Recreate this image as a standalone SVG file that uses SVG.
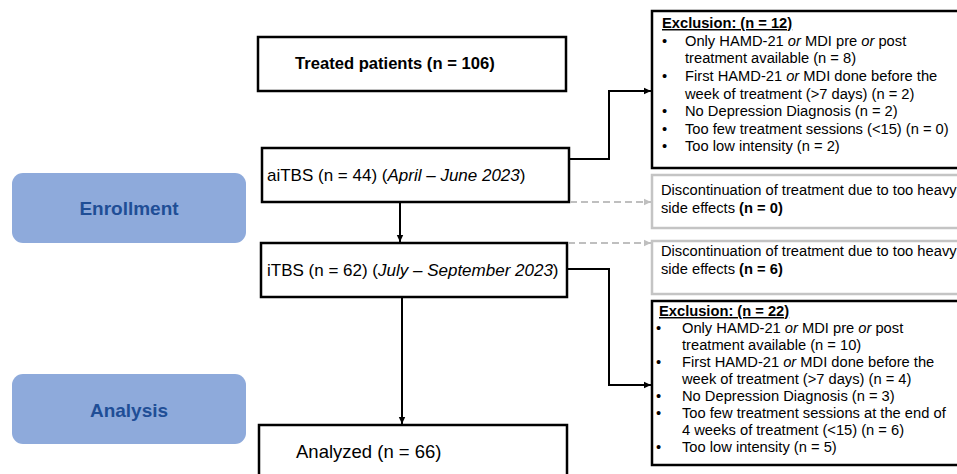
<svg xmlns="http://www.w3.org/2000/svg" width="957" height="474" viewBox="0 0 957 474">
<defs>
<marker id="ab" markerWidth="8" markerHeight="8" refX="7" refY="4" orient="auto" markerUnits="userSpaceOnUse"><path d="M0,0.8 L7,4 L0,7.2 Z" fill="#000"/></marker>
<marker id="ag" markerWidth="8" markerHeight="8" refX="7" refY="4" orient="auto" markerUnits="userSpaceOnUse"><path d="M0,0.8 L7,4 L0,7.2 Z" fill="#bfbfbf"/></marker>
<style>
text{font-family:"Liberation Sans",Arial,sans-serif;fill:#000}
.box{fill:#fff;stroke:#000;stroke-width:2.5}
.gbox{fill:#fff;stroke:#c4c4c4;stroke-width:2.5}
.stage{fill:#8eaadb}
.stxt{font-size:19px;font-weight:bold;fill:#1f4e96;text-anchor:middle}
.main{font-size:17px}
.sm{font-size:14.7px}
.hd{font-weight:bold;text-decoration:underline}
.con{fill:none;stroke:#000;stroke-width:2;marker-end:url(#ab)}
.dash{fill:none;stroke:#bfbfbf;stroke-width:2;stroke-dasharray:7,4;marker-end:url(#ag)}
</style>
</defs>
<g id="enrollment"><rect class="stage" x="12" y="173" width="234" height="70" rx="11"/><text class="stxt" x="129" y="215">Enrollment</text></g>
<g id="analysis"><rect class="stage" x="12" y="374" width="234" height="70" rx="11"/><text class="stxt" x="129" y="417">Analysis</text></g>
<g id="treated"><rect class="box" x="258" y="37" width="308" height="54"/><text x="295" y="69" style="font-size:16.6px;font-weight:bold">Treated patients (n = 106)</text></g>
<g id="aitbs"><rect class="box" x="262" y="148" width="307" height="54"/><text class="main" x="267" y="181">aiTBS (n = 44) (<tspan font-style="italic">April – June 2023</tspan>)</text></g>
<g id="itbs"><rect class="box" x="261" y="243" width="306" height="54"/><text class="main" x="267" y="276">iTBS (n = 62) (<tspan font-style="italic">July – September  2023</tspan>)</text></g>
<g id="analyzed"><rect class="box" x="259" y="425" width="308" height="60"/><text x="296" y="458" style="font-size:18.5px">Analyzed (n = 66)</text></g>
<g id="exclusion1"><rect class="box" x="652" y="11" width="320" height="157"/>
<text class="sm hd" x="662" y="28">Exclusion: (n = 12)</text>
<text class="sm"><tspan x="662" y="46">•</tspan><tspan x="685">Only HAMD-21 <tspan font-style="italic">or</tspan> MDI pre <tspan font-style="italic">or</tspan> post</tspan></text>
<text class="sm" x="685" y="63">treatment available (n = 8)</text>
<text class="sm"><tspan x="662" y="81">•</tspan><tspan x="685">First HAMD-21 <tspan font-style="italic">or</tspan> MDI done before the</tspan></text>
<text class="sm" x="685" y="98.5">week of treatment (&gt;7 days) (n = 2)</text>
<text class="sm"><tspan x="662" y="116">•</tspan><tspan x="685">No Depression Diagnosis (n = 2)</tspan></text>
<text class="sm"><tspan x="662" y="133.5">•</tspan><tspan x="685">Too few treatment sessions (&lt;15) (n = 0)</tspan></text>
<text class="sm"><tspan x="662" y="151">•</tspan><tspan x="685">Too low intensity (n = 2)</tspan></text>
</g>
<g id="discont1"><rect class="gbox" x="652" y="175" width="320" height="53"/>
<text class="sm" x="661" y="195">Discontinuation of treatment due to too heavy</text>
<text class="sm" x="661" y="212.5">side effects <tspan font-weight="bold">(n = 0)</tspan></text></g>
<g id="discont2"><rect class="gbox" x="652" y="241" width="320" height="53"/>
<text class="sm" x="661" y="256">Discontinuation of treatment due to too heavy</text>
<text class="sm" x="661" y="273.5">side effects <tspan font-weight="bold">(n = 6)</tspan></text></g>
<g id="exclusion2"><rect class="box" x="652" y="301" width="320" height="164"/>
<text class="sm hd" x="659" y="316">Exclusion: (n = 22)</text>
<text class="sm"><tspan x="656" y="333">•</tspan><tspan x="682">Only HAMD-21 <tspan font-style="italic">or</tspan> MDI pre <tspan font-style="italic">or</tspan> post</tspan></text>
<text class="sm" x="682" y="350">treatment available (n = 10)</text>
<text class="sm"><tspan x="656" y="367">•</tspan><tspan x="682">First HAMD-21 <tspan font-style="italic">or</tspan> MDI done before the</tspan></text>
<text class="sm" x="682" y="384">week of treatment (&gt;7 days) (n = 4)</text>
<text class="sm"><tspan x="656" y="401">•</tspan><tspan x="682">No Depression Diagnosis (n = 3)</tspan></text>
<text class="sm"><tspan x="656" y="418">•</tspan><tspan x="682">Too few treatment sessions at the end of</tspan></text>
<text class="sm" x="682" y="435">4 weeks of treatment (&lt;15) (n = 6)</text>
<text class="sm"><tspan x="656" y="452">•</tspan><tspan x="682">Too low intensity (n = 5)</tspan></text>
</g>
<g id="connectors">
<path class="con" d="M569,159 H609 V91 H651"/>
<path class="con" d="M400,202 V242"/>
<path class="dash" d="M570,202 H651"/>
<path class="dash" d="M568,243 H651"/>
<path class="con" d="M567,269 H609 V385 H651"/>
<path class="con" d="M402,297 V424"/>
</g>
</svg>
